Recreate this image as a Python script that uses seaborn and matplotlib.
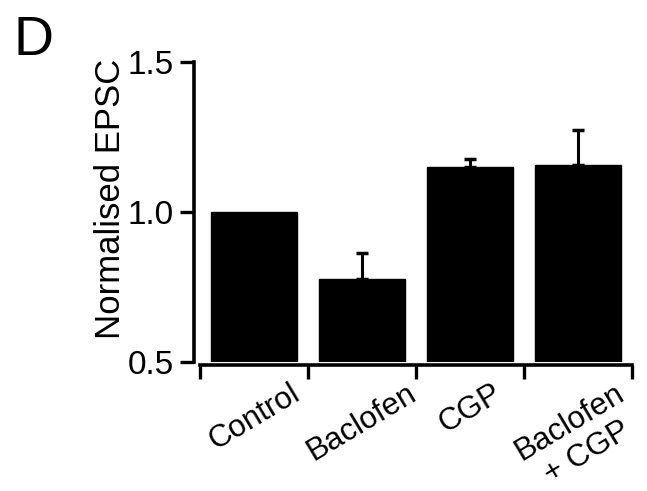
import matplotlib
matplotlib.use("Agg")
import matplotlib.pyplot as plt
import seaborn as sns
import pandas as pd
import numpy as np

# Normalised EPSC amplitude per condition (mean and upper SEM)
conditions = ["Control", "Baclofen", "CGP", "Baclofen\n+ CGP"]
means = [1.0, 0.777, 1.151, 1.158]
sems = [0.0, 0.087, 0.026, 0.114]
y_ticks = [0.5, 1.0, 1.5]

sns.set_theme(style="ticks")
plt.rcParams["font.family"] = ["Liberation Sans", "DejaVu Sans"]
plt.rcParams["text.color"] = "black"
plt.rcParams["axes.labelcolor"] = "black"
plt.rcParams["xtick.color"] = "black"
plt.rcParams["ytick.color"] = "black"

df = pd.DataFrame({"condition": conditions, "epsc": means})

fig = plt.figure(figsize=(6.47, 4.91), dpi=100)
ax = fig.add_axes([200 / 647, 1 - 362 / 491, 432 / 647, 300 / 491])

sns.barplot(data=df, x="condition", y="epsc", color="black", width=0.8,
            saturation=1, ax=ax, errorbar=None)
for p in ax.patches:
    p.set_edgecolor("black")

# one-sided (upward) error bars, skipped where there is no spread
pos = np.arange(len(conditions))
has_err = np.array(sems) > 0
ax.errorbar(pos[has_err], np.array(means)[has_err],
            yerr=[np.zeros(has_err.sum()), np.array(sems)[has_err]],
            fmt="none", ecolor="black", elinewidth=2.2, capsize=4.5,
            capthick=2.5)

ax.set_ylim(0.5, 1.5)
ax.set_xlim(-0.5, len(conditions) - 0.5)
ax.set_yticks(y_ticks)
ax.set_yticklabels([f"{v:.1f}" for v in y_ticks])

# boundary ticks between bars, category labels at bar centres
ax.set_xticks(np.arange(len(conditions) + 1) - 0.5, labels=[""] * (len(conditions) + 1))
ax.set_xticks(pos, labels=conditions, minor=True)
ax.tick_params(axis="x", which="minor", length=0, pad=10, labelsize=22.5,
               labelrotation=31)
for lbl in ax.get_xticklabels(minor=True):
    lbl.set_ha("center")
    lbl.set_va("top")
    lbl.set_linespacing(0.9)
ax.tick_params(axis="x", which="major", length=10, width=2.4)
ax.tick_params(axis="y", which="major", length=10, width=2.4,
               labelsize=24, pad=5)

ax.set_xlabel("")
ax.set_ylabel("Normalised EPSC", fontsize=25)
ax.yaxis.set_label_coords(-0.168, 0.543)

for side in ["top", "right"]:
    ax.spines[side].set_visible(False)
for side in ["left", "bottom"]:
    ax.spines[side].set_linewidth(2.6)
    ax.spines[side].set_color("black")
ax.spines["left"].set_position(("outward", 4))
ax.spines["bottom"].set_position(("outward", 2))

fig.text(13 / 647, 1 - 55 / 491, "D", fontsize=40, ha="left", va="baseline")

fig.savefig("out.png", dpi=100, facecolor="white")
